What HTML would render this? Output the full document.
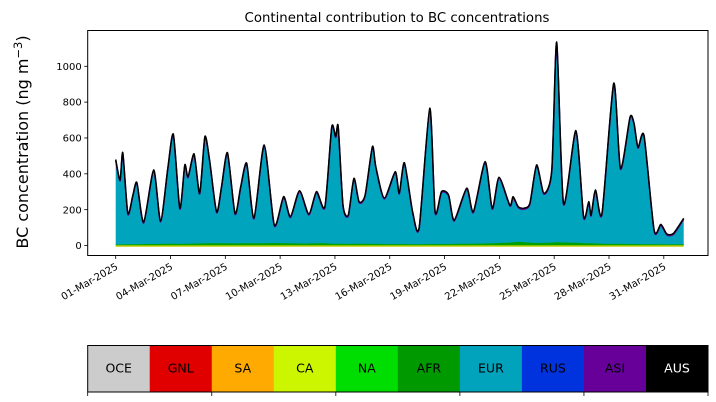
<!DOCTYPE html>
<html><head><meta charset="utf-8"><style>
html,body{margin:0;padding:0;background:#fff;}
svg{display:block;font-family:"DejaVu Sans","Liberation Sans",sans-serif;}
</style></head><body>
<svg id="c" width="716" height="402" viewBox="0 0 716 402"></svg>
<script>
const days=[0,0.24,0.39,0.66,0.94,1.16,1.53,2.08,2.46,2.86,3.16,3.51,3.78,3.96,4.29,4.6,4.88,5.15,5.52,5.79,6.12,6.53,6.84,7.17,7.57,8.13,8.68,9.19,9.56,10.06,10.57,10.99,11.45,11.82,12.04,12.18,12.44,12.73,13.04,13.32,13.65,14.05,14.24,14.7,15.3,15.52,15.8,16.25,16.61,17.19,17.48,17.83,18.22,18.53,19.21,19.58,20.22,20.61,20.98,21.57,21.75,22.03,22.34,22.67,23.04,23.44,23.87,24.14,24.51,25.19,25.61,25.89,26.02,26.26,26.62,27.26,27.63,28.15,28.37,28.59,28.92,29.47,29.84,30.17,30.53,31.09];
const totals=[480,366,518,181,282,351,131,422,137,440,620,209,450,384,511,293,608,468,189,328,518,181,328,459,154,561,115,273,161,306,176,301,217,660,608,664,226,170,375,245,282,552,438,265,412,293,462,189,102,766,189,301,282,142,320,189,468,208,381,226,273,217,208,236,450,292,422,1135,236,641,161,245,170,310,180,905,431,716,683,549,612,87,118,64,68,152];
const afr=[5,5,6,6,7,7,8,8,9,10,10,9,10,10,11,11,12,12,12,12,12,11,12,12,12,13,14,13,12,11,11,12,12,10,10,10,10,9,10,10,10,9,9,8,8,8,8,7,7,8,8,8,8,9,10,10,11,12,14,16,18,20,18,16,14,15,16,18,17,15,13,12,12,11,10,9,9,8,8,8,7,7,7,6,6,6];
const yTicks=[0,200,400,600,800,1000];
const xTickDays=[0,3,6,9,12,15,18,21,24,27,30];
const xTickLabels=["01-Mar-2025","04-Mar-2025","07-Mar-2025","10-Mar-2025","13-Mar-2025","16-Mar-2025","19-Mar-2025","22-Mar-2025","25-Mar-2025","28-Mar-2025","31-Mar-2025"];
const regions=["OCE","GNL","SA","CA","NA","AFR","EUR","RUS","ASI","AUS"];
const regionColors=["#cccccc","#e00000","#ffaa00","#ccf500","#00dd00","#009900","#00a3bb","#0033dd","#660099","#000000"];

const NS="http://www.w3.org/2000/svg";
const svg=document.getElementById('c');
const L=87.7,R=708,T=30.5,B=255.5;
const X=d=>115.7+d*18.27;
const Y=v=>245.5-v*0.1792;
function mk(tag,attrs,parent){const e=document.createElementNS(NS,tag);for(const k in attrs)e.setAttribute(k,attrs[k]);(parent||svg).appendChild(e);return e;}
function smooth(p){
  let d="M"+p[0][0].toFixed(1)+","+p[0][1].toFixed(1);
  for(let i=0;i<p.length-1;i++){
    const p0=p[Math.max(0,i-1)],p1=p[i],p2=p[i+1],p3=p[Math.min(p.length-1,i+2)];
    const t=0.12;
    const c1=[p1[0]+(p2[0]-p0[0])*t,p1[1]+(p2[1]-p0[1])*t];
    const c2=[p2[0]-(p3[0]-p1[0])*t,p2[1]-(p3[1]-p1[1])*t];
    d+="C"+c1[0].toFixed(1)+","+c1[1].toFixed(1)+" "+c2[0].toFixed(1)+","+c2[1].toFixed(1)+" "+p2[0].toFixed(1)+","+p2[1].toFixed(1);
  }
  return d;
}
const tp=days.map((d,i)=>[X(d),Y(totals[i])]);
const ap=days.map((d,i)=>[X(d),Y(afr[i])]);
const x0=X(days[0]),x1=X(days[days.length-1]);
const tPath=smooth(tp);

let area=mk('path',{d:tPath+"L"+x1+","+Y(0)+"L"+x0+","+Y(0)+"Z",fill:"#00a5bd"});


let asi=mk('path',{d:tPath,fill:"none",stroke:"#660099","stroke-width":1.5,transform:"translate(0 1)"});


let af=mk('path',{d:smooth(ap)+"L"+x1+","+Y(0)+"L"+x0+","+Y(0)+"Z",fill:"#00a000"});


let ca=mk('line',{x1:x0,x2:x1,y1:Y(0)+0.5,y2:Y(0)+0.5,stroke:"#bbcc00","stroke-width":1.5});


let tl=mk('path',{d:tPath,fill:"none",stroke:"#000","stroke-width":1.5,"stroke-linejoin":"round"});



let fr=mk('rect',{x:L,y:T,width:R-L,height:B-T,fill:"none",stroke:"#000","stroke-width":1});



yTicks.forEach(v=>{
  const y=Y(v);
  let t=mk('line',{x1:L-3.5,x2:L,y1:y,y2:y,stroke:"#000","stroke-width":0.8});
  
  
  let tx=mk('text',{x:L-6,y:y+3.6,"text-anchor":"end","font-size":10});
  tx.textContent=v;
  
  
});
xTickDays.forEach((d,i)=>{
  const x=X(d);
  let t=mk('line',{x1:x,x2:x,y1:B,y2:B+3.5,stroke:"#000","stroke-width":0.8});
  
  
  let tx=mk('text',{x:x+3,y:B+13,"text-anchor":"end","font-size":10,transform:"rotate(-30 "+(x+3)+" "+(B+13)+")"});
  tx.textContent=xTickLabels[i];
  
  
});

let title=mk('text',{x:397,y:22,"text-anchor":"middle","font-size":13.3});
title.textContent="Continental contribution to BC concentrations";



let yl=mk('text',{x:0,y:0,"text-anchor":"middle","font-size":16,transform:"translate(28 142) rotate(-90)"});
yl.innerHTML='BC concentration (ng m<tspan dy="-6" font-size="11.5">−3</tspan><tspan dy="6">)</tspan>';



const cw=(R-L)/regions.length;
regions.forEach((r,i)=>{
  let c=mk('rect',{x:L+i*cw,y:345.5,width:cw+0.3,height:46.5,fill:regionColors[i]});
  
  
  let t=mk('text',{x:L+i*cw+cw/2,y:372.5,"text-anchor":"middle","font-size":12.5,fill:r==="AUS"?"#fff":"#000"});
  t.textContent=r;
  
  
});
let cb=mk('rect',{x:L,y:345.5,width:R-L,height:46.5,fill:"none",stroke:"#000","stroke-width":1});


[0,2,4,6,8,10].forEach(k=>{
  let t=mk('line',{x1:L+k*cw,x2:L+k*cw,y1:392,y2:396,stroke:"#000","stroke-width":0.8});
  
  
});
</script>
</body></html>
